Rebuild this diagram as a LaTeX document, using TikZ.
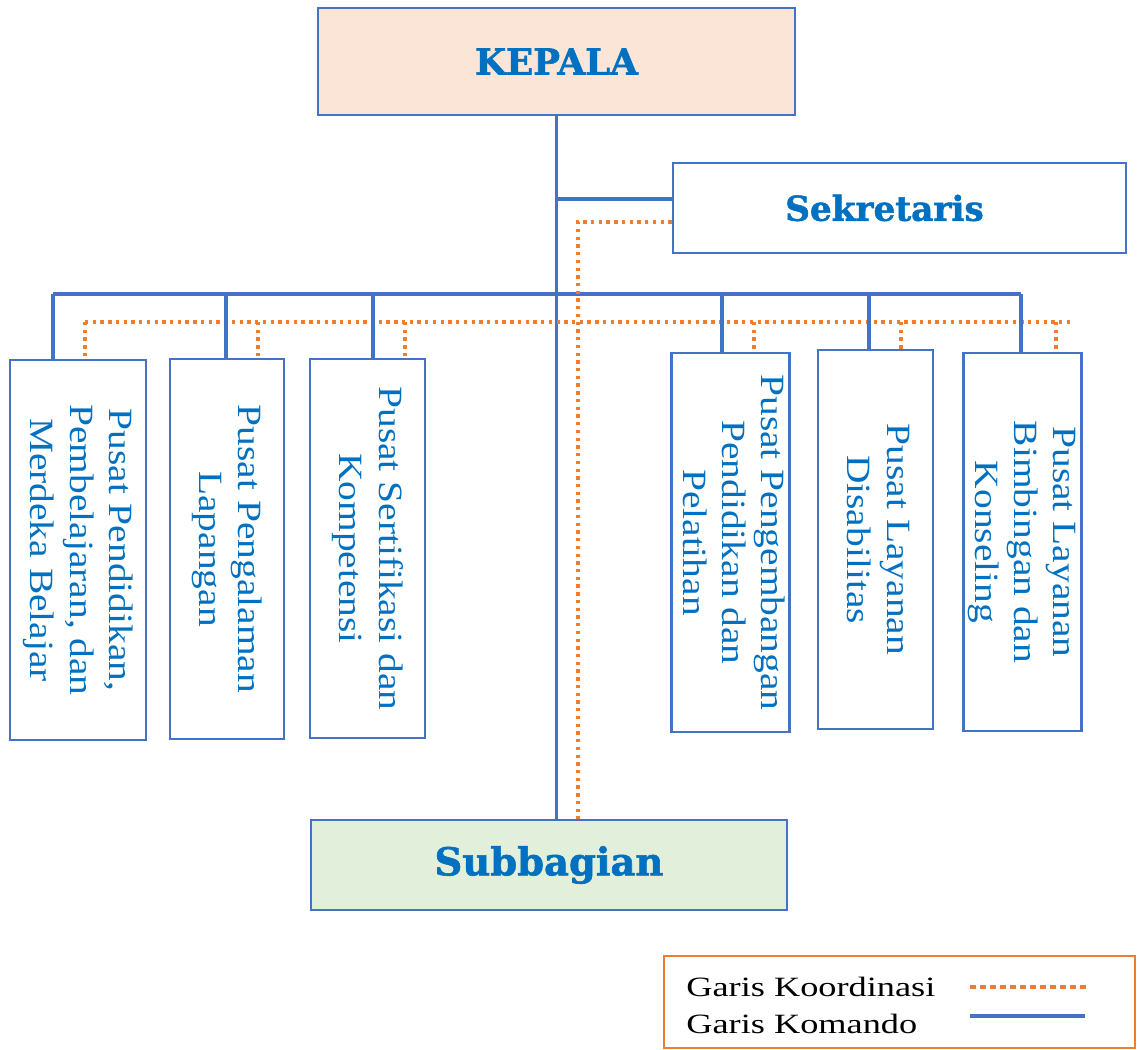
\documentclass[tikz,border=0pt]{standalone}
\usepackage{fontspec}
\usepackage{graphicx}
\usetikzlibrary{positioning}
\newfontfamily\headfont[BoldFeatures={FakeBold=1.5}]{DejaVu Serif}
\newfontfamily\boxfont[FakeStretch=1.16]{Liberation Serif}
\newfontfamily\legendfont[FakeStretch=1.3]{Liberation Serif}
\definecolor{orgblue}{HTML}{4472C4}
\definecolor{orgtext}{HTML}{0070C0}
\definecolor{orgorange}{HTML}{ED7D31}
\definecolor{kepalafill}{HTML}{FBE5D6}
\definecolor{subfill}{HTML}{E2EFDA}
\newcommand{\vlabel}[1]{\rotatebox{-90}{\begin{tabular}{@{}c@{}}#1\end{tabular}}}

\begin{document}
\begin{tikzpicture}[
    x=0.02cm, y=-0.02cm,
    headbox/.style={rectangle, draw=orgblue, line width=1.6pt, align=center, text=orgtext},
    pusat/.style={rectangle, draw=orgblue, line width=1.6pt, text=orgtext, inner sep=0pt,
                 font=\boxfont\fontsize{19.35}{22.4}\selectfont, minimum width=2.3cm, minimum height=7.58cm},
    komando/.style={draw=orgblue, line width=2.1pt},
    koordinasi/.style={draw=orgorange, line width=1.9pt, dash pattern=on 1.9pt off 2.5pt}
]
\useasboundingbox (0,0) rectangle (1137,1050);

% kepala, sekretaris, subbagian
\node[headbox, fill=kepalafill, minimum width=9.54cm, minimum height=2.14cm,
      font=\headfont\bfseries\fontsize{20.3}{24}\selectfont] (kepala) at (556.5,61.5) {KEPALA};
\node[headbox, minimum width=9.06cm, minimum height=1.8cm,
      font=\headfont\bfseries\fontsize{19.5}{23}\selectfont] (sekretaris) at (899.5,208) {Sekretaris\hspace{0.6cm}};
\node[headbox, fill=subfill, minimum width=9.52cm, minimum height=1.8cm,
      font=\headfont\bfseries\fontsize{21.9}{26}\selectfont] (subbagian) at (549,865) {Subbagian};

% pusat
\node[pusat, minimum width=2.72cm, minimum height=7.6cm] (p1) at (78,550) {\vlabel{Pusat Pendidikan,\\Pembelajaran, dan\\Merdeka Belajar}};
\node[pusat, minimum width=2.28cm, minimum height=7.6cm] (p2) at (227,549) {\vlabel{Pusat Pengalaman\\Lapangan}};
\node[pusat] (p3) at (367.5,548.5) {\vlabel{Pusat Sertifikasi dan\\Kompetensi}};
\node[pusat] (p4) at (730.5,542.5) {\vlabel{Pusat Pengembangan\\Pendidikan dan\\Pelatihan}};
\node[pusat] (p5) at (875.5,539.5) {\vlabel{Pusat Layanan\\Disabilitas}};
\node[pusat, minimum width=2.26cm, minimum height=7.56cm] (p6) at (1022.5,542) {\vlabel{Pusat Layanan\\Bimbingan dan\\Konseling}};

% garis komando
\coordinate (sekJ) at (556.5,199);
\draw[komando] (kepala.south) -- (kepala.south |- subbagian.north);
\draw[komando] (sekJ) -- (sekJ -| sekretaris.west);
\draw[komando] (53,294) -- (1021,294);

% garis koordinasi
\coordinate (sekK) at (578,222);
\draw[koordinasi] (sekK -| sekretaris.west) -- (sekK) -- (sekK |- subbagian.north);
\draw[koordinasi] (85,322) -- (1070,322);

\foreach \n/\cx/\ox in {p1/53/85, p2/226/258, p3/373/405, p4/722/754, p5/869/901, p6/1021/1056} {
  \draw[komando] (\cx,294) -- (\cx,0 |- \n.north);
  \draw[koordinasi] (\ox,322) -- (\ox,0 |- \n.north);
}

% legend
\node[rectangle, draw=orgorange, line width=1.2pt, minimum width=9.42cm, minimum height=1.84cm] (legend) at (899.5,1002) {};
\node[anchor=base west, inner sep=0pt, font=\legendfont\fontsize{15.9}{18}\selectfont] (lkoord) at (686,996) {Garis Koordinasi};
\node[anchor=base west, inner sep=0pt, font=\legendfont\fontsize{15.9}{18}\selectfont] (lkom) at (686,1033) {Garis Komando};
\draw[orgorange, line width=2.2pt, dash pattern=on 3.4pt off 2.3pt] (970,987) -- (1090,987);
\draw[komando] (970,1016) -- (1085,1016);
\end{tikzpicture}
\end{document}
